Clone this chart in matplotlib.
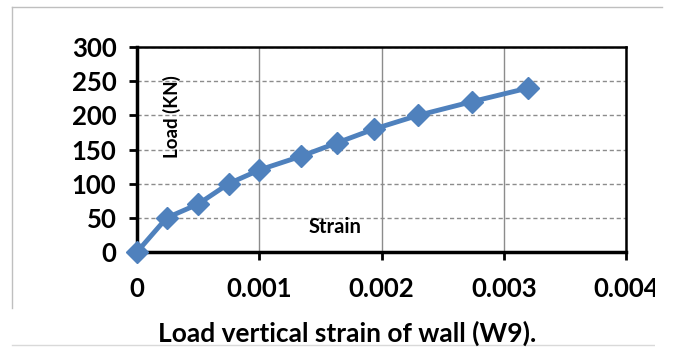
import matplotlib
matplotlib.use("Agg")
import matplotlib.pyplot as plt
from matplotlib.patches import Rectangle
from matplotlib.lines import Line2D

strain = [0, 0.000243, 0.000499, 0.00075, 0.001, 0.00134, 0.00164, 0.00194, 0.00230, 0.00274, 0.00320]
load = [0, 50, 70, 100, 120, 140, 160, 180, 200, 220, 240]
xticks = [0, 0.001, 0.002, 0.003, 0.004]
xticklabels = ["0", "0.001", "0.002", "0.003", "0.004"]
yticks = [0, 50, 100, 150, 200, 250, 300]

W, H = 673, 347
plt.rcParams['font.family'] = ['Lato', 'DejaVu Sans']
fig = plt.figure(figsize=(W / 100, H / 100), dpi=100)

# outer frame
fig.add_artist(Line2D([12 / W, 662 / W], [1 - 7 / H, 1 - 7 / H], color="#bfbfbf", lw=1))
fig.add_artist(Line2D([12 / W, 12 / W], [1 - 7 / H, 1 - 308 / H], color="#bfbfbf", lw=1))
fig.add_artist(Line2D([12 / W, 662 / W], [1 - 345 / H, 1 - 345 / H], color="#d9d9d9", lw=1))

L, R, T, B = 137, 626, 47, 252
ax = fig.add_axes([L / W, 1 - B / H, (R - L) / W, (B - T) / H])
ax.set_xlim(0, 0.004)
ax.set_ylim(0, 300)
ax.set_xticks(xticks)
ax.set_xticklabels(xticklabels)
ax.set_yticks(yticks)

ax.yaxis.grid(True, linestyle=(0, (3, 2)), color="#8c8c8c", lw=1)
ax.xaxis.grid(True, linestyle="-", color="#8c8c8c", lw=1)
ax.set_axisbelow(True)

for s in ["left", "bottom"]:
    ax.spines[s].set_linewidth(2.5)
for s in ["top", "right"]:
    ax.spines[s].set_linewidth(1.8)
for s in ax.spines.values():
    s.set_color("black")

ax.tick_params(axis="both", direction="out", length=5.8, width=2, colors="black")
ax.tick_params(axis="x", pad=12)
ax.tick_params(axis="y", pad=9)
for lbl in ax.get_xticklabels() + ax.get_yticklabels():
    lbl.set_fontsize(18.5)
    lbl.set_fontweight("bold")

ax.plot(strain, load, color="#4f81bd", lw=3.5, marker="D", markersize=11,
        markerfacecolor="#4f81bd", markeredgecolor="#4f81bd", clip_on=False, zorder=5)

ax.text((172 - L) / (R - L), 1 - (117 - T) / (B - T), "Load (KN)", rotation=90, transform=ax.transAxes,
        ha="center", va="center", fontsize=13.5, fontweight="bold")
ax.text((335 - L) / (R - L), 1 - (227 - T) / (B - T), "Strain", transform=ax.transAxes,
        ha="center", va="center", fontsize=14.5, fontweight="bold")

fig.text(347 / W, 1 - 333 / H, "Load vertical strain of wall (W9).", ha="center", va="center",
         fontsize=19, fontweight="bold")

# right side clipped white area
fig.add_artist(Rectangle((655 / W, 0), 18 / W, 1 - 9 / H, transform=fig.transFigure,
                         facecolor="white", edgecolor="none", zorder=10))

fig.savefig("out.png", dpi=100)
